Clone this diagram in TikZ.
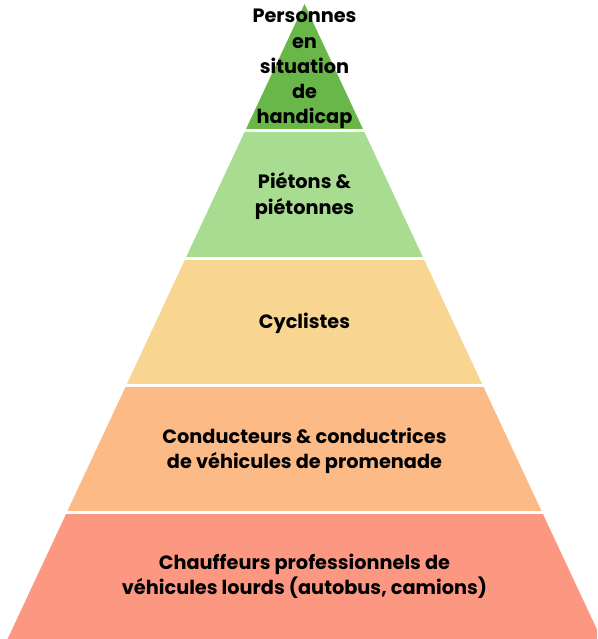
\documentclass[tikz,border=0pt]{standalone}
\usepackage{fontspec}
\setmainfont{Poppins}
\definecolor{lay1}{RGB}{106,183,73}
\definecolor{lay2}{RGB}{168,220,144}
\definecolor{lay3}{RGB}{248,214,146}
\definecolor{lay4}{RGB}{252,186,135}
\definecolor{lay5}{RGB}{252,152,130}
\tikzset{
  layertext/.style={align=center, font=\bfseries\fontsize{19.3}{25.2}\selectfont, text=black, inner sep=0pt},
  sep/.style={draw=white, line width=3pt}
}
\begin{document}
\begin{tikzpicture}[x=1pt,y=-1pt]
\useasboundingbox (0,0) rectangle (597,639);
\clip (0,0) rectangle (597,639);
% half width = 0.4675*(y-4), centre 304.5
\fill[lay1] (304.5,4) -- (363.9,131) -- (245.1,131) -- cycle;
\fill[lay2] (245.1,131) -- (363.9,131) -- (423.3,258) -- (185.7,258) -- cycle;
\fill[lay3] (185.7,258) -- (423.3,258) -- (482.6,385) -- (126.4,385) -- cycle;
\fill[lay4] (126.4,385) -- (482.6,385) -- (542.0,512) -- (67.0,512) -- cycle;
\fill[lay5] (67.0,512) -- (542.0,512) -- (601.4,639) -- (7.6,639) -- cycle;
\draw[sep] (230,131) -- (380,131);
\draw[sep] (170,258) -- (440,258);
\draw[sep] (110,385) -- (500,385);
\draw[sep] (50,512) -- (560,512);
\node[layertext] (t1) at (304.5,69) {Personnes\\en\\situation\\de\\handicap};
\node[layertext] (t2) at (304.5,196) {Piétons \&\\piétonnes};
\node[layertext] (t3) at (304.5,323) {Cyclistes};
\node[layertext] (t4) at (304.5,451) {Conducteurs \& conductrices\\de véhicules de promenade};
\node[layertext] (t5) at (304.5,576) {Chauffeurs professionnels de\\véhicules lourds (autobus, camions)};
\end{tikzpicture}
\end{document}
